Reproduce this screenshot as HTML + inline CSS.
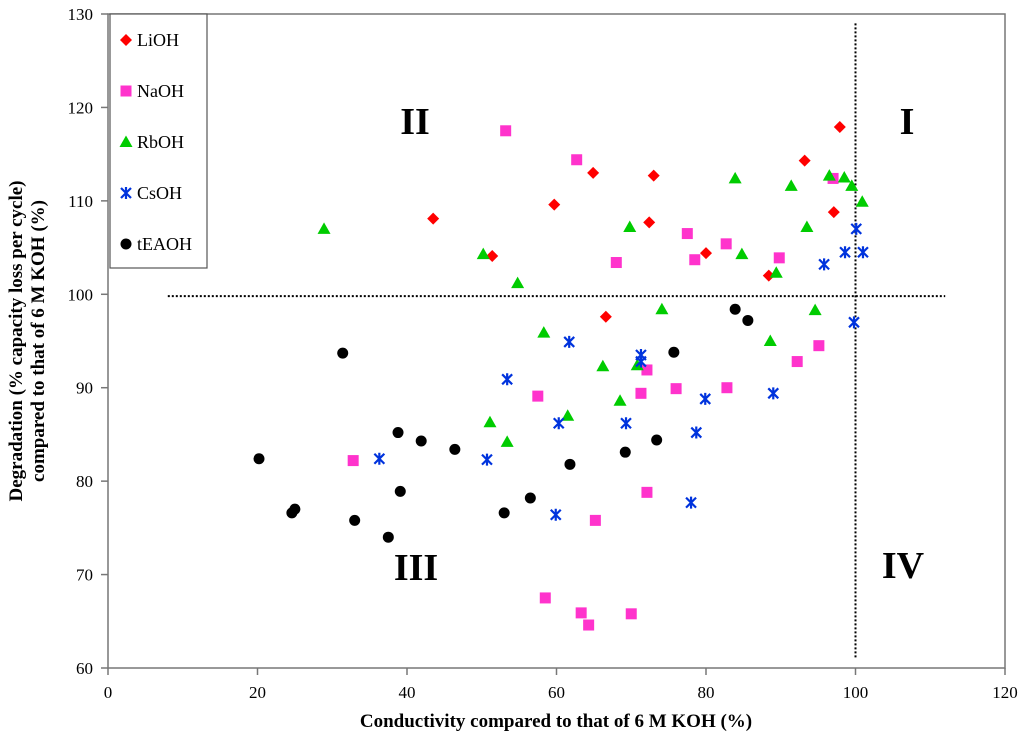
<!DOCTYPE html>
<html><head><meta charset="utf-8"><style>
html,body{margin:0;padding:0;background:#fff;}
svg{display:block;font-family:"Liberation Serif",serif;}
</style></head><body>
<svg id="chart" width="1024" height="748" viewBox="0 0 1024 748">
<g id="axes"></g><g id="marks"></g>
</svg>
<script>
const xTicks=[0,20,40,60,80,100,120];
const yTicks=[60,70,80,90,100,110,120,130];
const seriesNames=["LiOH","NaOH","RbOH","CsOH","tEAOH"];
const lioh=[[97.9,117.9],[93.2,114.3],[97.1,108.8],[64.9,113.0],[73.0,112.7],[59.7,109.6],[72.4,107.7],[43.5,108.1],[51.4,104.1],[80.0,104.4],[88.4,102.0],[66.6,97.6]];
const naoh=[[53.2,117.5],[62.7,114.4],[97.0,112.4],[77.5,106.5],[82.7,105.4],[68.0,103.4],[78.5,103.7],[89.8,103.9],[95.1,94.5],[92.2,92.8],[72.1,91.9],[76.0,89.9],[82.8,90.0],[71.3,89.4],[57.5,89.1],[32.8,82.2],[72.1,78.8],[65.2,75.8],[58.5,67.5],[63.3,65.9],[64.3,64.6],[70.0,65.8]];
const rboh=[[28.9,107.0],[50.2,104.3],[54.8,101.2],[83.9,112.4],[91.4,111.6],[96.5,112.7],[98.5,112.5],[99.5,111.6],[100.9,109.9],[69.8,107.2],[84.8,104.3],[93.5,107.2],[89.4,102.3],[74.1,98.4],[94.6,98.3],[58.3,95.9],[88.6,95.0],[66.2,92.3],[70.8,92.4],[68.5,88.6],[61.5,87.0],[51.1,86.3],[53.4,84.2]];
const csoh=[[100.1,107.0],[98.6,104.5],[101.0,104.5],[95.8,103.2],[99.8,97.0],[61.7,94.9],[53.4,90.9],[71.3,93.5],[71.3,92.8],[89.0,89.4],[79.9,88.8],[69.3,86.2],[60.3,86.2],[78.7,85.2],[36.3,82.4],[50.7,82.3],[59.9,76.4],[78.0,77.7]];
const teaoh=[[83.9,98.4],[85.6,97.2],[75.7,93.8],[31.4,93.7],[38.8,85.2],[41.9,84.3],[46.4,83.4],[20.2,82.4],[61.8,81.8],[73.4,84.4],[69.2,83.1],[39.1,78.9],[56.5,78.2],[53.0,76.6],[25.0,77.0],[24.6,76.6],[33.0,75.8],[37.5,74.0]];
const hLineY=99.8, hLineX=[8,112];
const vLineX=100, vLineY=[61,129];

const X0=108,X1=1005,Y0=668,Y1=14;
function sx(v){return X0+(v-0)/(120-0)*(X1-X0);}
function sy(v){return Y0-(v-60)/(130-60)*(Y0-Y1);}
const NS="http://www.w3.org/2000/svg";
function el(tag,attrs,parent){const e=document.createElementNS(NS,tag);for(const k in attrs)e.setAttribute(k,attrs[k]);parent.appendChild(e);return e;}
const axes=document.getElementById('axes'),marks=document.getElementById('marks');

const frame=el('rect',{x:X0,y:Y1,width:X1-X0,height:Y0-Y1,fill:'none',stroke:'#777','stroke-width':1.5},axes);


xTicks.forEach(t=>{
  const x=sx(t);
  const l=el('line',{x1:x,x2:x,y1:Y0,y2:Y0+7,stroke:'#777','stroke-width':1.5},axes);
  
  
  const tx=el('text',{x:x,y:Y0+30,'text-anchor':'middle','font-size':17},axes);
  tx.textContent=t;
  
  
});
yTicks.forEach(t=>{
  const y=sy(t);
  const l=el('line',{x1:X0-7,x2:X0,y1:y,y2:y,stroke:'#777','stroke-width':1.5},axes);
  
  
  const tx=el('text',{x:X0-15,y:y+6,'text-anchor':'end','font-size':17},axes);
  tx.textContent=t;
  
  
});
const xt=el('text',{x:556,y:727,'text-anchor':'middle','font-size':19,'font-weight':'bold'},axes);
xt.textContent='Conductivity compared to that of 6 M KOH (%)';


const yt=el('text',{transform:'translate(22,341) rotate(-90)','text-anchor':'middle','font-size':19,'font-weight':'bold'},axes);
yt.textContent='Degradation (% capacity loss per cycle)';


const yt2=el('text',{transform:'translate(44,341) rotate(-90)','text-anchor':'middle','font-size':19,'font-weight':'bold'},axes);
yt2.textContent='compared to that of 6 M KOH (%)';



const hl=el('line',{x1:sx(hLineX[0]),x2:sx(hLineX[1]),y1:sy(hLineY),y2:sy(hLineY),stroke:'#000','stroke-width':2,'stroke-dasharray':'2,2'},axes);


const vl=el('line',{x1:sx(vLineX),x2:sx(vLineX),y1:sy(vLineY[1]),y2:sy(vLineY[0]),stroke:'#000','stroke-width':2,'stroke-dasharray':'2,2'},axes);



[['II',415,134,'quadrant-label-ii'],['I',907,134,'quadrant-label-i'],['III',416,580,'quadrant-label-iii'],['IV',903,578,'quadrant-label-iv']].forEach(q=>{
  const t=el('text',{x:q[1],y:q[2],'text-anchor':'middle','font-size':38,'font-weight':'bold'},axes);
  t.textContent=q[0];
  
  
});

function marker(type,cx,cy,parent){
  let e;
  if(type===0){e=el('polygon',{points:`${cx},${cy-6} ${cx+6},${cy} ${cx},${cy+6} ${cx-6},${cy}`,fill:'#f00'},parent);}
  else if(type===1){e=el('rect',{x:cx-5.5,y:cy-5.5,width:11,height:11,fill:'#ff33cc'},parent);}
  else if(type===2){e=el('polygon',{points:`${cx},${cy-6.5} ${cx+6.5},${cy+5} ${cx-6.5},${cy+5}`,fill:'#00cc00'},parent);}
  else if(type===3){e=el('path',{d:`M${cx-5},${cy-5}L${cx+5},${cy+5}M${cx+5},${cy-5}L${cx-5},${cy+5}M${cx},${cy-6}L${cx},${cy+6}`,stroke:'#0033dd','stroke-width':2.2,fill:'none'},parent);}
  else {e=el('circle',{cx:cx,cy:cy,r:5.5,fill:'#000'},parent);}
  return e;
}
const all=[lioh,naoh,rboh,csoh,teaoh];
all.forEach((s,i)=>{
  const g=el('g',{},marks);
  
  
  s.forEach(p=>{
    const m=marker(i,sx(p[0]),sy(p[1]),g);
    
    
  });
});

const lg=el('g',{},marks);


el('rect',{x:110,y:14,width:97,height:254,fill:'#fff',stroke:'#555','stroke-width':1.2},lg);
seriesNames.forEach((n,i)=>{
  const y=39+i*51;
  const m=marker(i,126,y+1,lg);
  
  
  const t=el('text',{x:137,y:y+7,'font-size':18},lg);
  t.textContent=n;
  
  
});
</script>
</body></html>
